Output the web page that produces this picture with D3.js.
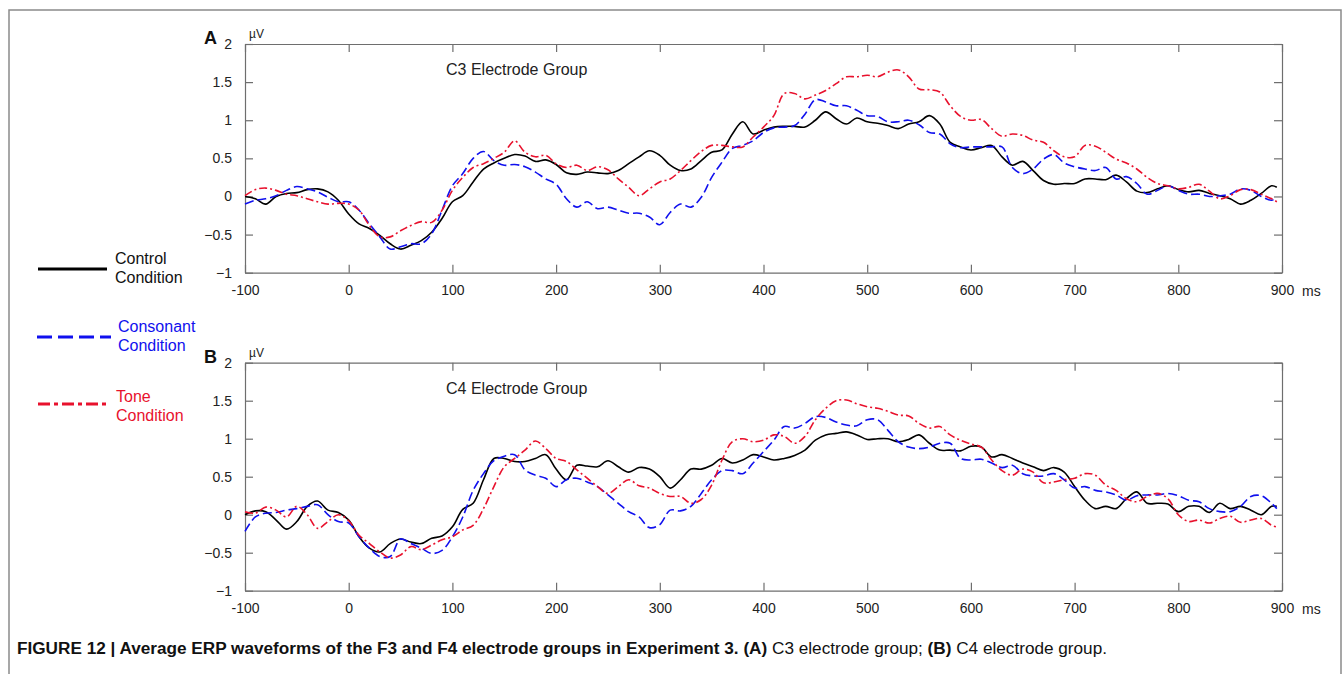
<!DOCTYPE html>
<html>
<head>
<meta charset="utf-8">
<script src="https://cdn.jsdelivr.net/npm/d3@7"></script>
<style>
  html, body { margin: 0; padding: 0; background: #fff; }
  svg { display: block; }
  text { font-family: "Liberation Sans", Arial, sans-serif; }
</style>
</head>
<body>
<svg id="chart" width="1343" height="674"></svg>
<script>
// ---- Data (µV), sampled every 10 ms from -100 to 890 ms, plus a final sample at 895 ms ----
const timeStart = -100, timeStep = 10, timeLastExtra = 895;

const controlA = [
  0.0, -0.03, -0.1, 0.0, 0.04, 0.05, 0.09, 0.1, 0.06, -0.05,
  -0.23, -0.36, -0.42, -0.51, -0.62, -0.69, -0.64, -0.58, -0.47, -0.29,
  -0.07, 0.01, 0.19, 0.36, 0.44, 0.5, 0.55, 0.53, 0.46, 0.48,
  0.42, 0.31, 0.29, 0.32, 0.31, 0.3, 0.34, 0.43, 0.52, 0.6,
  0.54, 0.41, 0.34, 0.36, 0.47, 0.58, 0.61, 0.82, 0.98, 0.82,
  0.87, 0.91, 0.92, 0.92, 0.91, 1.0, 1.11, 1.02, 0.95, 1.03,
  0.98, 0.96, 0.93, 0.89, 0.95, 0.98, 1.06, 0.95, 0.71, 0.65,
  0.61, 0.64, 0.67, 0.52, 0.41, 0.46, 0.34, 0.21, 0.16, 0.17,
  0.17, 0.23, 0.23, 0.22, 0.28, 0.19, 0.07, 0.05, 0.1, 0.14,
  0.09, 0.06, 0.08, 0.04, 0.01, -0.03, -0.1, -0.05, 0.04, 0.14, 0.12
];
const consonantA = [
  -0.1, -0.05, -0.03, 0.01, 0.08, 0.13, 0.1, 0.06, -0.01, -0.07,
  -0.07, -0.18, -0.36, -0.53, -0.69, -0.66, -0.62, -0.62, -0.49, -0.18,
  0.14, 0.3, 0.5, 0.59, 0.47, 0.41, 0.42, 0.39, 0.32, 0.23,
  0.16, -0.03, -0.14, -0.07, -0.16, -0.14, -0.18, -0.22, -0.22, -0.27,
  -0.37, -0.21, -0.1, -0.14, -0.01, 0.25, 0.45, 0.63, 0.67, 0.73,
  0.84, 0.9, 0.91, 0.93, 1.08, 1.27, 1.24, 1.19, 1.19, 1.13,
  1.06, 1.05, 0.98, 0.98, 1.0, 0.94, 0.84, 0.82, 0.69, 0.64,
  0.65, 0.65, 0.65, 0.65, 0.38, 0.3, 0.36, 0.49, 0.55, 0.44,
  0.39, 0.36, 0.34, 0.38, 0.23, 0.26, 0.17, 0.03, 0.08, 0.14,
  0.08, 0.03, 0.03, 0.0, 0.01, 0.03, 0.1, 0.08, 0.0, -0.05, -0.01
];
const toneA = [
  0.01, 0.09, 0.11, 0.08, 0.03, 0.01, -0.03, -0.07, -0.1, -0.09,
  -0.1, -0.18, -0.38, -0.53, -0.53, -0.45, -0.38, -0.33, -0.34, -0.18,
  0.08, 0.25, 0.38, 0.43, 0.5, 0.58, 0.73, 0.58, 0.52, 0.54,
  0.43, 0.38, 0.41, 0.34, 0.39, 0.35, 0.23, 0.12, 0.01, 0.1,
  0.19, 0.23, 0.34, 0.47, 0.59, 0.67, 0.67, 0.65, 0.65, 0.78,
  0.91, 1.06, 1.35, 1.35, 1.28, 1.33, 1.39, 1.48, 1.57, 1.57,
  1.59, 1.57, 1.63, 1.66, 1.57, 1.41, 1.4, 1.37, 1.19, 1.05,
  1.0, 1.01, 0.89, 0.79, 0.82, 0.8, 0.74, 0.71, 0.6, 0.52,
  0.52, 0.67, 0.66, 0.58, 0.49, 0.44, 0.36, 0.25, 0.17, 0.14,
  0.1, 0.12, 0.16, 0.07, -0.03, 0.01, 0.09, 0.09, 0.03, -0.03, -0.07
];
const controlB = [
  0.0, 0.05, 0.04, -0.07, -0.19, -0.09, 0.11, 0.18, 0.06, 0.03,
  -0.07, -0.29, -0.44, -0.49, -0.38, -0.32, -0.36, -0.38, -0.31, -0.28,
  -0.16, 0.07, 0.15, 0.46, 0.74, 0.74, 0.7, 0.7, 0.74, 0.79,
  0.6, 0.46, 0.65, 0.64, 0.63, 0.71, 0.63, 0.56, 0.62, 0.6,
  0.5, 0.35, 0.46, 0.6, 0.6, 0.65, 0.74, 0.68, 0.72, 0.79,
  0.76, 0.72, 0.74, 0.78, 0.85, 0.98, 1.05, 1.07, 1.09, 1.05,
  0.99, 1.0, 1.0, 0.96, 0.99, 1.05, 0.94, 0.85, 0.85, 0.84,
  0.9, 0.89, 0.76, 0.79, 0.74, 0.68, 0.63, 0.58, 0.62, 0.56,
  0.37, 0.19, 0.08, 0.11, 0.08, 0.21, 0.3, 0.15, 0.15, 0.14,
  0.04, 0.11, 0.11, 0.03, 0.15, 0.08, 0.11, 0.06, 0.0, 0.11, 0.11
];
const consonantB = [
  -0.22, -0.03, 0.02, 0.03, 0.06, 0.08, 0.11, 0.13, 0.0, -0.09,
  -0.11, -0.29, -0.44, -0.55, -0.55, -0.32, -0.38, -0.44, -0.51, -0.47,
  -0.29, -0.03, 0.32, 0.54, 0.71, 0.77, 0.79, 0.59, 0.52, 0.48,
  0.37, 0.46, 0.48, 0.43, 0.37, 0.26, 0.15, 0.04, -0.03, -0.17,
  -0.13, 0.06, 0.05, 0.11, 0.28, 0.46, 0.58, 0.58, 0.54, 0.68,
  0.83, 0.98, 1.16, 1.14, 1.2, 1.29, 1.28, 1.22, 1.18, 1.17,
  1.25, 1.25, 1.11, 0.96, 0.89, 0.87, 0.89, 0.94, 0.94, 0.74,
  0.72, 0.73, 0.68, 0.62, 0.65, 0.54, 0.51, 0.51, 0.54, 0.46,
  0.35, 0.37, 0.32, 0.3, 0.26, 0.19, 0.25, 0.26, 0.26, 0.28,
  0.25, 0.19, 0.17, 0.08, 0.04, 0.04, 0.11, 0.24, 0.25, 0.15, 0.08
];
const toneB = [
  0.04, 0.02, 0.1, 0.06, -0.03, 0.11, 0.0, -0.18, -0.09, 0.0,
  -0.08, -0.27, -0.38, -0.49, -0.57, -0.53, -0.42, -0.46, -0.4, -0.33,
  -0.29, -0.2, -0.14, 0.08, 0.37, 0.63, 0.74, 0.85, 0.97, 0.87,
  0.74, 0.7, 0.59, 0.48, 0.37, 0.28, 0.37, 0.46, 0.38, 0.35,
  0.28, 0.24, 0.24, 0.15, 0.2, 0.39, 0.72, 0.96, 1.0, 0.96,
  0.98, 1.05, 1.03, 0.94, 1.03, 1.25, 1.4, 1.5, 1.51, 1.46,
  1.42, 1.4, 1.36, 1.31, 1.3, 1.2, 1.14, 1.16, 1.05, 0.98,
  0.93, 0.89, 0.72, 0.58, 0.52, 0.6, 0.56, 0.42, 0.43, 0.46,
  0.48, 0.54, 0.52, 0.39, 0.32, 0.21, 0.17, 0.24, 0.28, 0.21,
  0.0, -0.09, -0.07, -0.11, -0.05, -0.02, -0.1, -0.07, -0.05, -0.14, -0.16
];

const xTicks = [-100, 0, 100, 200, 300, 400, 500, 600, 700, 800, 900];
const yTicks = [-1, -0.5, 0, 0.5, 1, 1.5, 2];
const seriesNames = ["Control", "Consonant", "Tone"];
const panelLetters = ["A", "B"];
const panelTitles = ["C3 Electrode Group", "C4 Electrode Group"];

// ---- Build ----
const times = d3.range(timeStart, 900, timeStep).concat([timeLastExtra]);

const styles = {
  Control:   { color: "#000000", dash: null,           legendDash: null },
  Consonant: { color: "#1010ee", dash: "9,4",          legendDash: "15,6" },
  Tone:      { color: "#e8112d", dash: "8,3,2,3",      legendDash: "12,4,4,4" }
};

const panels = [
  { letter: panelLetters[0], title: panelTitles[0], top: 44, bottom: 272.7,
    series: { Control: controlA, Consonant: consonantA, Tone: toneA } },
  { letter: panelLetters[1], title: panelTitles[1], top: 362.7, bottom: 590.7,
    series: { Control: controlB, Consonant: consonantB, Tone: toneB } }
];

const svg = d3.select("#chart");
const left = 245, right = 1282;
const axisColor = "#6e6e6e";
const tickLen = 8;

// Outer figure frame
svg.append("rect")
  .attr("x", 9).attr("y", 10).attr("width", 1332).attr("height", 700)
  .attr("fill", "none").attr("stroke", "#8a8a8a").attr("stroke-width", 1.5);

const x = d3.scaleLinear().domain([-100, 900]).range([left, right]);

panels.forEach(p => {
  const y = d3.scaleLinear().domain([-1, 2]).range([p.bottom, p.top]);
  const g = svg.append("g");

  // Axes with inward ticks on all four sides
  const fmtX = d => String(d);
  const fmtY = d => d3.format("~g")(d);

  const bottomAxis = d3.axisBottom(x).tickValues(xTicks).tickSizeInner(-tickLen).tickSizeOuter(0).tickPadding(tickLen + 4).tickFormat(fmtX);
  const topAxis = d3.axisTop(x).tickValues(xTicks).tickSizeInner(-tickLen).tickSizeOuter(0).tickFormat("");
  const leftAxis = d3.axisLeft(y).tickValues(yTicks).tickSizeInner(-tickLen).tickSizeOuter(0).tickPadding(tickLen + 5).tickFormat(fmtY);
  const rightAxis = d3.axisRight(y).tickValues(yTicks).tickSizeInner(-tickLen).tickSizeOuter(0).tickFormat("");

  const styleAxis = sel => {
    sel.selectAll("path").attr("stroke", axisColor).attr("stroke-width", 1.2);
    sel.selectAll("line").attr("stroke", axisColor).attr("stroke-width", 1.2);
    sel.selectAll("text").attr("font-size", 14).attr("fill", "#222")
      .attr("font-family", '"Liberation Sans", Arial, sans-serif');
  };

  const gb = g.append("g").attr("transform", `translate(0,${p.bottom})`).call(bottomAxis).call(styleAxis);
  // "900" label + separate "ms"
  g.append("text").attr("x", x(900) + 20).attr("y", p.bottom + tickLen + 4 + 11)
    .attr("font-size", 14).attr("fill", "#222").text("ms");
  g.append("g").attr("transform", `translate(0,${p.top})`).call(topAxis).call(styleAxis);
  g.append("g").attr("transform", `translate(${left},0)`).call(leftAxis).call(styleAxis);
  g.append("g").attr("transform", `translate(${right},0)`).call(rightAxis).call(styleAxis);

  // Axis domain lines bottom/top must span whole width (outer=0 ok)
  // Panel letter
  g.append("text").attr("x", 204).attr("y", p.top + 0)
    .attr("font-size", 18).attr("font-weight", "bold").attr("fill", "#111").text(p.letter);
  // µV unit
  g.append("text").attr("x", 249).attr("y", p.top - 6)
    .attr("font-size", 12).attr("fill", "#222").text("µV");
  // Title
  g.append("text").attr("x", 446).attr("y", p.top + 31)
    .attr("font-size", 16).attr("fill", "#222").text(p.title);

  // Lines
  const line = d3.line()
    .x((d, i) => x(times[i]))
    .y(d => y(d))
    .curve(d3.curveCatmullRom.alpha(0.5));

  seriesNames.forEach(name => {
    const st = styles[name];
    g.append("path")
      .datum(p.series[name])
      .attr("d", line)
      .attr("fill", "none")
      .attr("stroke", st.color)
      .attr("stroke-width", 1.6)
      .attr("stroke-dasharray", st.dash)
      .attr("stroke-linejoin", "round");
  });
});

// ---- Legend ----
const legendItems = [
  { name: "Control",   label: ["Control", "Condition"],   lineY: 269, textX: 115, textY: 264, x1: 38, x2: 107 },
  { name: "Consonant", label: ["Consonant", "Condition"], lineY: 337, textX: 118, textY: 332, x1: 37, x2: 111 },
  { name: "Tone",      label: ["Tone", "Condition"],      lineY: 404, textX: 116, textY: 402, x1: 38, x2: 109 }
];
const lg = svg.append("g");
legendItems.forEach(it => {
  const st = styles[it.name];
  lg.append("line").attr("x1", it.x1).attr("x2", it.x2).attr("y1", it.lineY).attr("y2", it.lineY)
    .attr("stroke", st.color).attr("stroke-width", 3).attr("stroke-dasharray", st.legendDash);
  const t = lg.append("text").attr("x", it.textX).attr("y", it.textY)
    .attr("font-size", 16).attr("fill", it.name === "Control" ? "#111" : st.color);
  it.label.forEach((s, i) => {
    t.append("tspan").attr("x", it.textX).attr("dy", i === 0 ? 0 : 19).text(s);
  });
});

// ---- Caption ----
const cap = svg.append("text").attr("x", 17).attr("y", 654)
  .attr("font-size", 16).attr("fill", "#111")
  .attr("font-family", '"Liberation Sans Narrow", "Liberation Sans", Arial, sans-serif')
  .attr("textLength", 1090).attr("lengthAdjust", "spacingAndGlyphs");
[
  ["FIGURE 12 | Average ERP waveforms of the F3 and F4 electrode groups in Experiment 3. ", "bold"],
  ["(A)", "bold"], [" C3 electrode group; ", "normal"],
  ["(B)", "bold"], [" C4 electrode group.", "normal"]
].forEach(([s, w]) => cap.append("tspan").attr("font-weight", w).text(s));
</script>
</body>
</html>
